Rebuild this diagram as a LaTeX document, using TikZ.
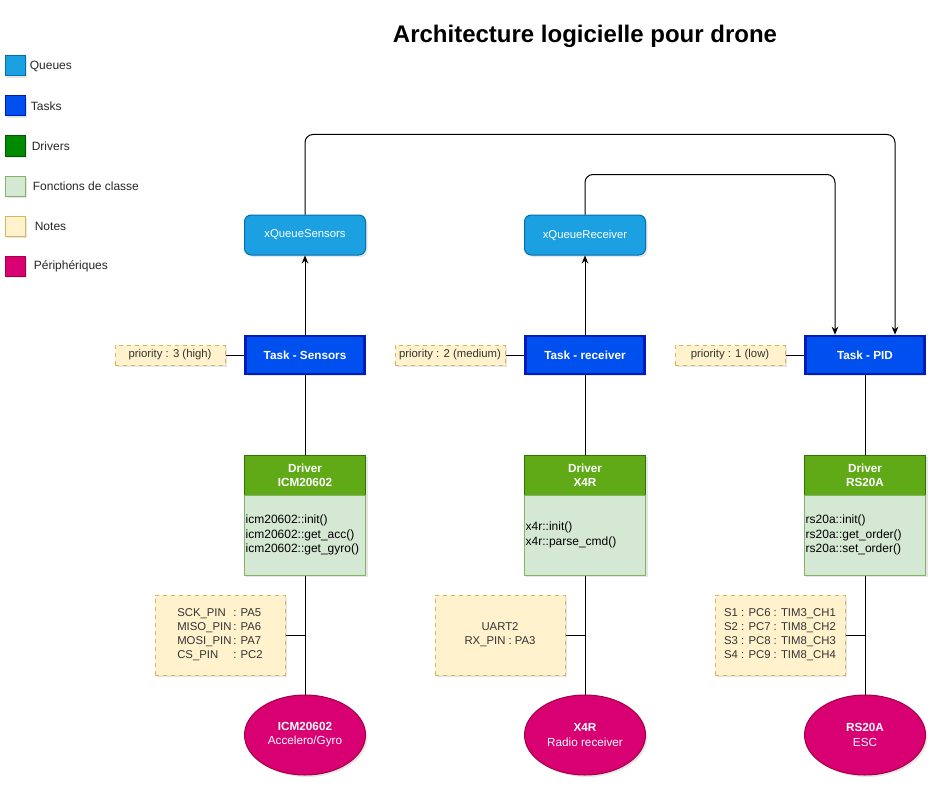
\documentclass[tikz,border=0pt]{standalone}
\usepackage{fontspec}
\setmainfont{Liberation Sans}
\usetikzlibrary{arrows, arrows.meta, shapes, shadows, positioning}
\definecolor{queueFill}{HTML}{1BA1E2}
\definecolor{queueLine}{HTML}{006EAF}
\definecolor{taskFill}{HTML}{0050EF}
\definecolor{taskLine}{HTML}{001DBC}
\definecolor{drvFill}{HTML}{60A917}
\definecolor{drvLine}{HTML}{2D7600}
\definecolor{legDrv}{HTML}{008A00}
\definecolor{legDrvLine}{HTML}{005700}
\definecolor{fnFill}{HTML}{D5E8D4}
\definecolor{fnLine}{HTML}{82B366}
\definecolor{noteFill}{HTML}{FFF2CC}
\definecolor{noteLine}{HTML}{D6B656}
\definecolor{perFill}{HTML}{D80073}
\definecolor{perLine}{HTML}{A50040}
\newcommand{\boldsize}{\fontsize{8.8}{10.6}\selectfont}
\tikzset{shade/.style={drop shadow={shadow xshift=1.5pt, shadow yshift=-1.5pt, opacity=0.2}}}
\tikzstyle{queue} = [rectangle, rounded corners=5pt, fill=queueFill, draw=queueLine, text=white,
                     minimum width=90.75pt, minimum height=30pt, shade]
\tikzstyle{task} = [rectangle, fill=taskFill, draw=taskLine, line width=2pt, text=white, font=\boldsize\bfseries,
                    minimum width=89pt, minimum height=28.5pt, shade]
\tikzstyle{driver} = [rectangle, fill=drvFill, draw=drvLine, text=white, font=\boldsize\bfseries, align=center,
                      minimum width=90.75pt, minimum height=30pt, inner sep=1pt, shade]
\tikzstyle{methods} = [rectangle, fill=fnFill, draw=fnLine, align=left, text width=89pt,
                       font=\fontsize{9}{10.8}\selectfont,
                       minimum width=90.75pt, minimum height=60pt, inner sep=1pt, shade]
\tikzstyle{note} = [rectangle, fill=noteFill, draw=noteLine, dashed, align=center, text=black!80,
                    minimum width=82.5pt, minimum height=15pt, inner sep=1pt, shade]
\tikzstyle{pins} = [note, minimum width=97.5pt, minimum height=60pt]
\tikzstyle{device} = [ellipse, fill=perFill, draw=perLine, text=white, font=\boldsize\bfseries, align=center,
                      minimum width=90.75pt, minimum height=60pt, inner sep=0pt, shade]
\tikzstyle{swatch} = [rectangle, minimum size=15pt, inner sep=0pt, shade]
\tikzstyle{legend} = [anchor=west, inner sep=1pt, text=black!85, font=\fontsize{9}{11}\selectfont]
\tikzstyle{flow} = [-{Stealth[length=6pt, width=5pt]}, line width=0.75pt]

\begin{document}
\begin{tikzpicture}[x=0.75pt, y=-0.75pt, font=\fontsize{8.5}{10.5}\selectfont, line width=0.75pt]
	\useasboundingbox (0,0) rectangle (943,792);

	\node (Title) at (585,36) {\fontsize{18}{21}\selectfont\bfseries Architecture logicielle pour drone};

	% legend
	\node (LegQueue) [swatch, fill=queueFill, draw=queueLine] at (15,66) {};
	\node [legend] at (28,66) {Queues};
	\node (LegTask) [swatch, fill=taskFill, draw=taskLine] at (15,106) {};
	\node [legend] at (29,106) {Tasks};
	\node (LegDrv) [swatch, fill=legDrv, draw=legDrvLine] at (15,146) {};
	\node [legend] at (30,146) {Drivers};
	\node (LegFn) [swatch, fill=fnFill, draw=fnLine] at (15,186) {};
	\node [legend] at (31,186) {Fonctions de classe};
	\node (LegNote) [swatch, fill=noteFill, draw=noteLine] at (15,226) {};
	\node [legend] at (33,226) {Notes};
	\node (LegPer) [swatch, fill=perFill, draw=perLine] at (15,266) {};
	\node [legend] at (32,266) {Périphériques};

	% sensors
	\node (QueueSensors) [queue] at (305,235) {xQueueSensors};
	\node (TaskSensors) [task] at (305,355) {Task - Sensors};
	\node (PrioSensors) [note] at (170,355) {priority : 3 (high)};
	\node (DrvSensors) [driver] at (305,475) {Driver\\ICM20602};
	\node (FnSensors) [methods] at (305,535) {icm20602::init()\\icm20602::get\_acc()\\icm20602::get\_gyro()};
	\node (PinSensors) [pins] at (220,635) {\begin{tabular}{@{}l@{\,}l@{}}SCK\_PIN & : PA5\\MISO\_PIN & : PA6\\MOSI\_PIN & : PA7\\CS\_PIN & : PC2\end{tabular}};
	\node (Sensor) [device] at (305,735) {ICM20602\\\mdseries Accelero/Gyro};
	\draw [flow] (TaskSensors) -- (QueueSensors);
	\draw (PrioSensors) -- (TaskSensors);
	\draw (TaskSensors) -- (DrvSensors);
	\draw (FnSensors) -- (Sensor);
	\draw (PinSensors.east) -- (PinSensors.east -| Sensor);

	% receiver
	\node (QueueReceiver) [queue] at (585,235) {xQueueReceiver};
	\node (TaskReceiver) [task] at (585,355) {Task - receiver};
	\node (PrioReceiver) [note] at (450,355) {priority : 2 (medium)};
	\node (DrvReceiver) [driver] at (585,475) {Driver\\X4R};
	\node (FnReceiver) [methods] at (585,535) {x4r::init()\\x4r::parse\_cmd()};
	\node (PinReceiver) [pins] at (500,635) {UART2\\RX\_PIN : PA3};
	\node (Receiver) [device] at (585,735) {X4R\\\mdseries Radio receiver};
	\draw [flow] (TaskReceiver) -- (QueueReceiver);
	\draw (PrioReceiver) -- (TaskReceiver);
	\draw (TaskReceiver) -- (DrvReceiver);
	\draw (FnReceiver) -- (Receiver);
	\draw (PinReceiver.east) -- (PinReceiver.east -| Receiver);

	% pid
	\node (TaskPID) [task] at (865,355) {Task - PID};
	\node (PrioPID) [note] at (730,355) {priority : 1 (low)};
	\node (DrvPID) [driver] at (865,475) {Driver\\RS20A};
	\node (FnPID) [methods] at (865,535) {rs20a::init()\\rs20a::get\_order()\\rs20a::set\_order()};
	\node (PinPID) [pins] at (780,635) {S1 : PC6 : TIM3\_CH1\\S2 : PC7 : TIM8\_CH2\\S3 : PC8 : TIM8\_CH3\\S4 : PC9 : TIM8\_CH4};
	\node (ESC) [device] at (865,735) {RS20A\\\mdseries ESC};
	\draw (PrioPID) -- (TaskPID);
	\draw (TaskPID) -- (DrvPID);
	\draw (FnPID) -- (ESC);
	\draw (PinPID.east) -- (PinPID.east -| ESC);

	% queues to pid
	\draw [flow, rounded corners=6pt] (QueueSensors.north) -- ++(0,-80) -| ([xshift=22.5pt]TaskPID.north);
	\draw [flow, rounded corners=6pt] (QueueReceiver.north) -- ++(0,-40) -| ([xshift=-22.5pt]TaskPID.north);
\end{tikzpicture}
\end{document}
